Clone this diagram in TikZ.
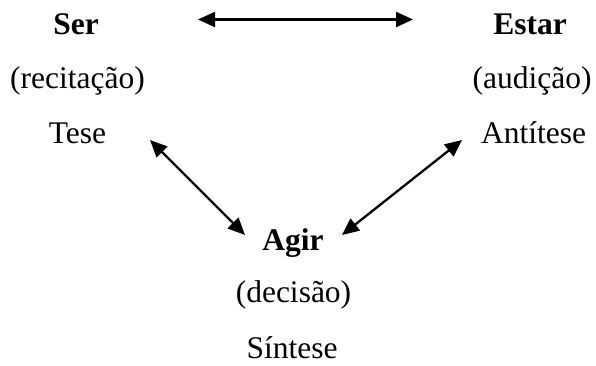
\documentclass[tikz,border=0pt]{standalone}
\usepackage{fontspec}
\setmainfont{Liberation Serif}
\usetikzlibrary{arrows.meta}
\begin{document}
\begin{tikzpicture}[x=1pt,y=-1pt,
  lbl/.style={anchor=base,inner sep=0pt,font=\fontsize{31.5}{36}\selectfont},
  head/.style={lbl,font=\fontsize{31.5}{36}\selectfont\bfseries},
  dbl/.style={line width=2.3pt,{Triangle[length=17pt,width=15pt]}-{Triangle[length=17pt,width=15pt]}}]
\useasboundingbox (0,0) rectangle (596,366);
\node[head] (ser) at (76,35) {Ser};
\node[lbl] (recit) at (77.5,89) {(recitação)};
\node[lbl] (tese) at (77.5,143) {Tese};
\node[head] (estar) at (530,35) {Estar};
\node[lbl] (aud) at (532,89) {(audição)};
\node[lbl] (anti) at (533.5,143) {Antítese};
\node[head] (agir) at (293,250) {Agir};
\node[lbl] (dec) at (293.5,302) {(decisão)};
\node[lbl] (sint) at (292,358) {Síntese};
\coordinate (t1) at (198,19.5);
\coordinate (t2) at (413,19.5);
\coordinate (l1) at (150,140);
\coordinate (l2) at (245,235);
\coordinate (r1) at (462,140);
\coordinate (r2) at (342,235);
\draw[dbl] (t1) -- (t2);
\draw[dbl] (l1) -- (l2);
\draw[dbl] (r1) -- (r2);
\end{tikzpicture}
\end{document}
